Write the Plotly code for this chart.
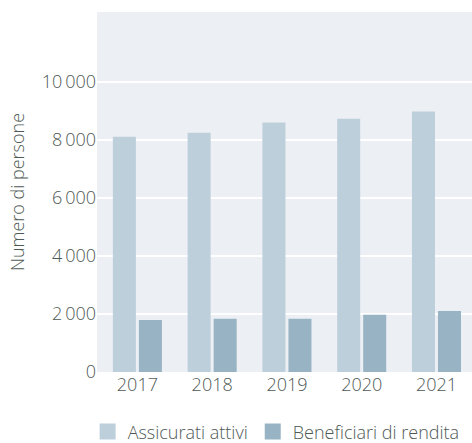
import plotly.graph_objects as go

years = ["2017", "2018", "2019", "2020", "2021"]
assicurati_attivi = [8100, 8240, 8590, 8720, 8970]
beneficiari_rendita = [1790, 1830, 1830, 1970, 2100]
series_names = ["Assicurati attivi", "Beneficiari di rendita"]
series_colors = ["#bdcfdb", "#98b3c4"]
y_tickvals = [0, 2000, 4000, 6000, 8000, 10000]
y_ticktext = ["0", "2\u2009000", "4\u2009000", "6\u2009000", "8\u2009000", "10\u2009000"]

font_family = "Open Sans, Noto Sans, sans-serif"
text_color = "#4f5a56"

fig = go.Figure()
for name, vals, col in zip(series_names, [assicurati_attivi, beneficiari_rendita], series_colors):
    fig.add_trace(go.Bar(x=years, y=vals, name=name, showlegend=False,
                         marker=dict(color=col, line=dict(width=0))))
# legend entries with larger square swatches
for name, col in zip(series_names, series_colors):
    fig.add_trace(go.Scatter(x=[None], y=[None], mode="markers", name=name,
                             marker=dict(symbol="square", size=19, color=col,
                                         line=dict(width=0))))

fig.update_layout(
    width=472, height=443,
    margin=dict(l=97, r=0, t=12, b=71, autoexpand=False),
    paper_bgcolor="white",
    plot_bgcolor="#ecf0f5",
    barmode="group",
    bargap=0.304,
    bargroupgap=0.115,
    font=dict(family=font_family, color=text_color, size=17, weight=300),
    showlegend=True,
    legend=dict(orientation="h", x=-0.025, xanchor="left", y=-0.115, yanchor="top",
                font=dict(size=18, color=text_color, weight=300), itemsizing="trace",
                bgcolor="rgba(0,0,0,0)"),
    xaxis=dict(type="category", range=[-0.54, 4.475], showgrid=False, zeroline=False,
               showline=False, ticks="", tickfont=dict(size=18, color=text_color, weight=300)),
    yaxis=dict(range=[0, 12400], tickvals=y_tickvals, ticktext=y_ticktext,
               showgrid=True, gridcolor="white", gridwidth=2, zeroline=False,
               showline=False, ticks="", tickfont=dict(size=18, color=text_color, weight=300),
               title=dict(text="Numero di persone",
                          font=dict(size=18, color=text_color, weight=300),
                          standoff=12)),
)

fig.write_html("out.html", config={"displayModeBar": False},
               post_script="document.body.style.margin='0';")
